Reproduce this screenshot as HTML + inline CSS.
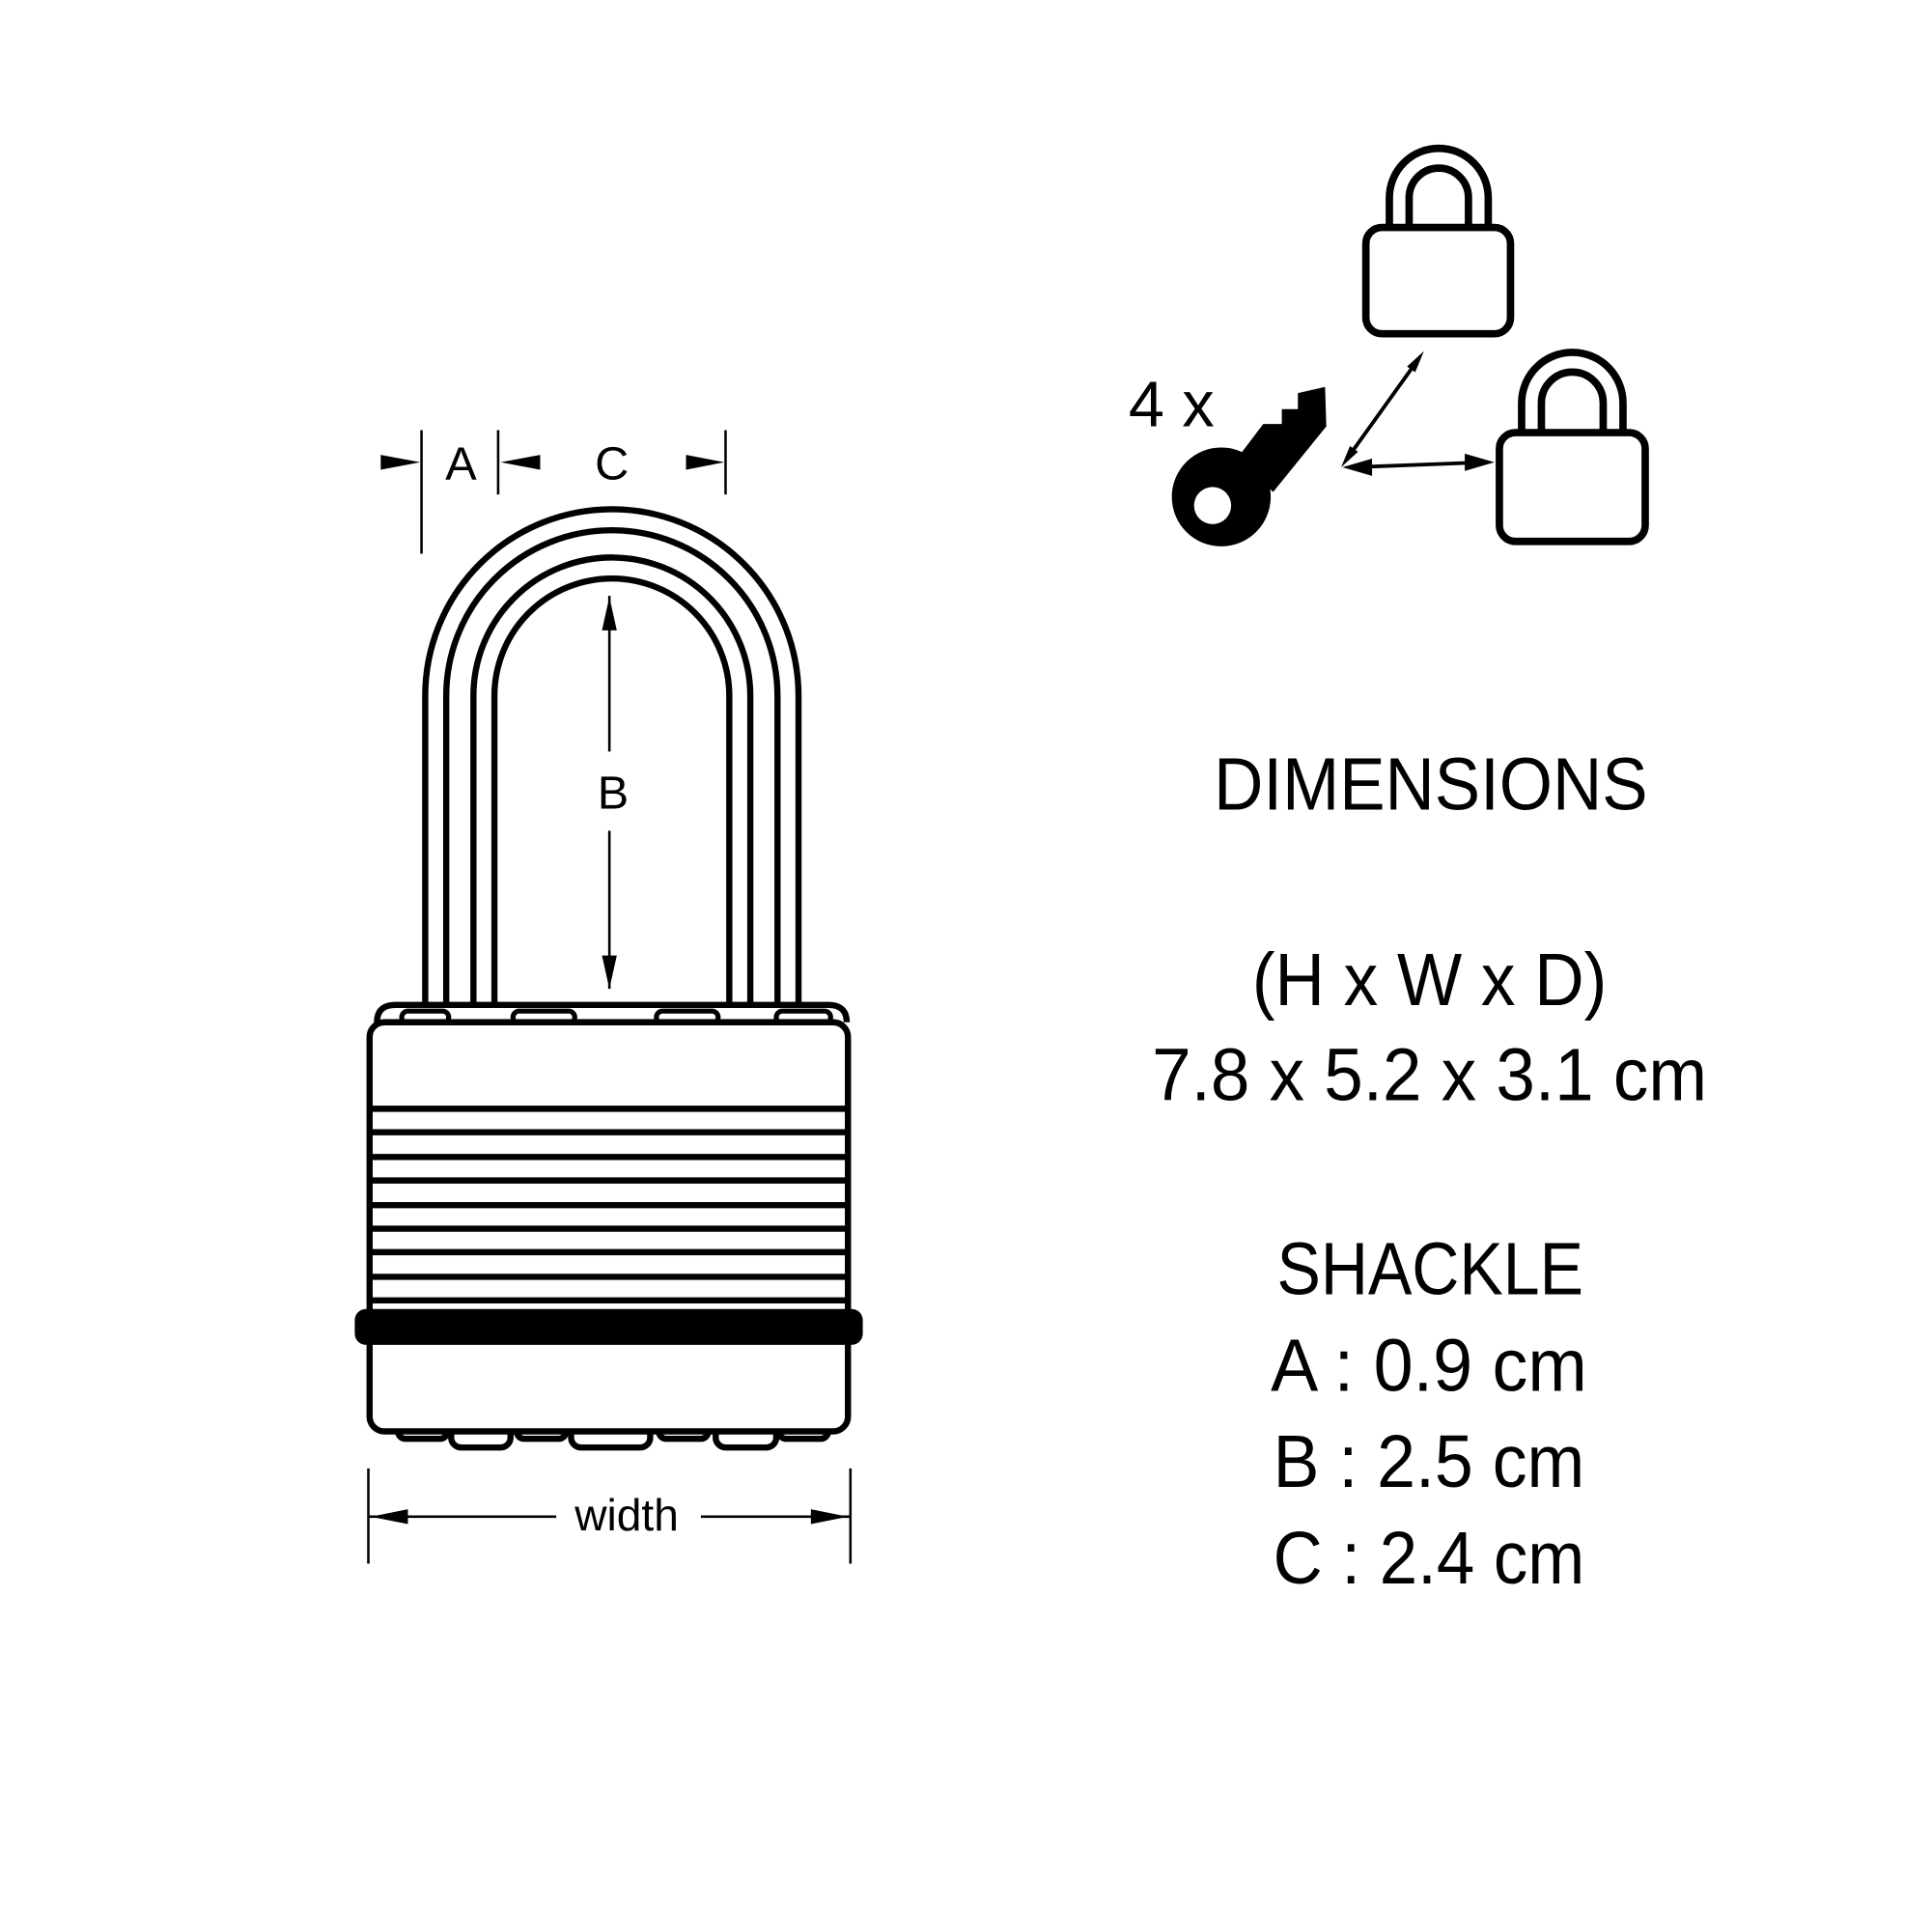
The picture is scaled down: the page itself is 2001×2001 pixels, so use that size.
<!DOCTYPE html>
<html><head><style>html,body{margin:0;padding:0;background:#fff;}svg{display:block}</style></head>
<body>
<svg width="2001" height="2001" viewBox="0 0 1563 1563" xmlns="http://www.w3.org/2000/svg">
<rect width="1563" height="1563" fill="#fff"/>
<g fill="none" stroke="#000" stroke-width="5">
 <path d="M344,815 V563 A151,151 0 0 1 646,563 V815"/>
 <path d="M361,815 V563 A134,134 0 0 1 629,563 V815"/>
 <path d="M383,815 V563 A112,112 0 0 1 607,563 V815"/>
 <path d="M400,815 V563 A95,95 0 0 1 590,563 V815"/>
</g>
<path d="M305,827 Q305,813 320,813 H670 Q685,813 685,827" fill="#fff" stroke="#000" stroke-width="5"/>
<g fill="#fff" stroke="#000" stroke-width="4">
 <rect x="325" y="818" width="38" height="10" rx="5"/>
 <rect x="415" y="818" width="50" height="10" rx="5"/>
 <rect x="531" y="818" width="50" height="10" rx="5"/>
 <rect x="628" y="818" width="44" height="10" rx="5"/>
</g>
<g fill="#fff" stroke="#000" stroke-width="5">
 <rect x="365" y="1145" width="48" height="26" rx="8"/>
 <rect x="462" y="1145" width="64" height="26" rx="8"/>
 <rect x="579" y="1145" width="49" height="26" rx="8"/>
 <rect x="322" y="1150" width="40" height="14" rx="6"/>
 <rect x="418" y="1150" width="40" height="14" rx="6"/>
 <rect x="533" y="1150" width="40" height="14" rx="6"/>
 <rect x="630" y="1150" width="40" height="14" rx="6"/>
</g>
<rect x="299" y="827" width="387" height="331" rx="12" fill="#fff" stroke="#000" stroke-width="5"/>
<g stroke="#000" stroke-width="5">
 <line x1="301" y1="897" x2="684" y2="897"/>
 <line x1="301" y1="916" x2="684" y2="916"/>
 <line x1="301" y1="936" x2="684" y2="936"/>
 <line x1="301" y1="955" x2="684" y2="955"/>
 <line x1="301" y1="975" x2="684" y2="975"/>
 <line x1="301" y1="994" x2="684" y2="994"/>
 <line x1="301" y1="1013" x2="684" y2="1013"/>
 <line x1="301" y1="1033" x2="684" y2="1033"/>
 <line x1="301" y1="1052" x2="684" y2="1052"/>
</g>
<rect x="287" y="1059" width="411" height="29" rx="9" fill="#000"/>
<g stroke="#000" stroke-width="2">
 <line x1="341" y1="348" x2="341" y2="448"/>
 <line x1="403" y1="348" x2="403" y2="400"/>
 <line x1="587" y1="348" x2="587" y2="400"/>
 <line x1="493" y1="482" x2="493" y2="608"/>
 <line x1="493" y1="672" x2="493" y2="800"/>
 <line x1="298" y1="1188" x2="298" y2="1265"/>
 <line x1="688" y1="1188" x2="688" y2="1265"/>
 <line x1="298" y1="1227" x2="450" y2="1227"/>
 <line x1="567" y1="1227" x2="688" y2="1227"/>
</g>
<g fill="#000">
 <path d="M308,368 L340,374 L308,380 z"/>
 <path d="M437,368 L405,374 L437,380 z"/>
 <path d="M555,368 L586,374 L555,380 z"/>
 <path d="M487,510 L493,483 L499,510 z"/>
 <path d="M487,773 L493,800 L499,773 z"/>
 <path d="M330,1221 L300,1227 L330,1233 z"/>
 <path d="M656,1221 L686,1227 L656,1233 z"/>
</g>
<g font-family="Liberation Sans, sans-serif" fill="#000" text-anchor="middle">
 <text x="373" y="388" font-size="38">A</text>
 <text x="495" y="388" font-size="38">C</text>
 <text x="496" y="654" font-size="38">B</text>
 <text x="507" y="1238" font-size="36">width</text>
</g>
<g fill="none" stroke="#000" stroke-width="6">
 <path d="M1124,185 V160 A40,40 0 0 1 1204,160 V185"/>
 <path d="M1140,185 V160 A24,24 0 0 1 1188,160 V185"/>
 <rect x="1105" y="184" width="117" height="86" rx="13" fill="#fff"/>
 <path d="M1231,350 V326 A41,41 0 0 1 1313,326 V350"/>
 <path d="M1247,350 V326 A25,25 0 0 1 1297,326 V350"/>
 <rect x="1213" y="350" width="118" height="88" rx="13" fill="#fff"/>
</g>
<g stroke="#000" stroke-width="3">
 <line x1="1092" y1="368" x2="1145" y2="294"/>
 <line x1="1095" y1="378" x2="1200" y2="374"/>
</g>
<g fill="#000">
 <path d="M1085,378 L1098.7,365.5 L1092.1,360.9 z"/>
 <path d="M1152,284 L1138.3,296.5 L1144.9,301.1 z"/>
 <path d="M1086,378 L1110,371 L1110,385 z"/>
 <path d="M1209,374 L1185,367 L1185,381 z"/>
</g>
<path fill="#000" d="M1050,318 L1050,331 L1037,331 L1037,343 L1022,343 L1000,372 L1030,398 L1073,345 L1072,313 z"/>
<circle cx="988" cy="402" r="40" fill="#000"/>
<circle cx="981" cy="409" r="15" fill="#fff"/>
<text x="913" y="345" font-family="Liberation Sans, sans-serif" font-size="52" fill="#000">4 x</text>
<g font-family="Liberation Sans, sans-serif" font-size="60" fill="#000">
 <text x="982" y="655" textLength="351" lengthAdjust="spacingAndGlyphs">DIMENSIONS</text>
 <text x="1013" y="813" textLength="287" lengthAdjust="spacingAndGlyphs">(H x W x D)</text>
 <text x="932" y="890" textLength="449" lengthAdjust="spacingAndGlyphs">7.8 x 5.2 x 3.1 cm</text>
 <text x="1033" y="1047" textLength="248" lengthAdjust="spacingAndGlyphs">SHACKLE</text>
 <text x="1028" y="1125" textLength="256" lengthAdjust="spacingAndGlyphs">A : 0.9 cm</text>
 <text x="1030" y="1203" textLength="252" lengthAdjust="spacingAndGlyphs">B : 2.5 cm</text>
 <text x="1030" y="1281" textLength="252" lengthAdjust="spacingAndGlyphs">C : 2.4 cm</text>
</g>
</svg>
</body></html>
